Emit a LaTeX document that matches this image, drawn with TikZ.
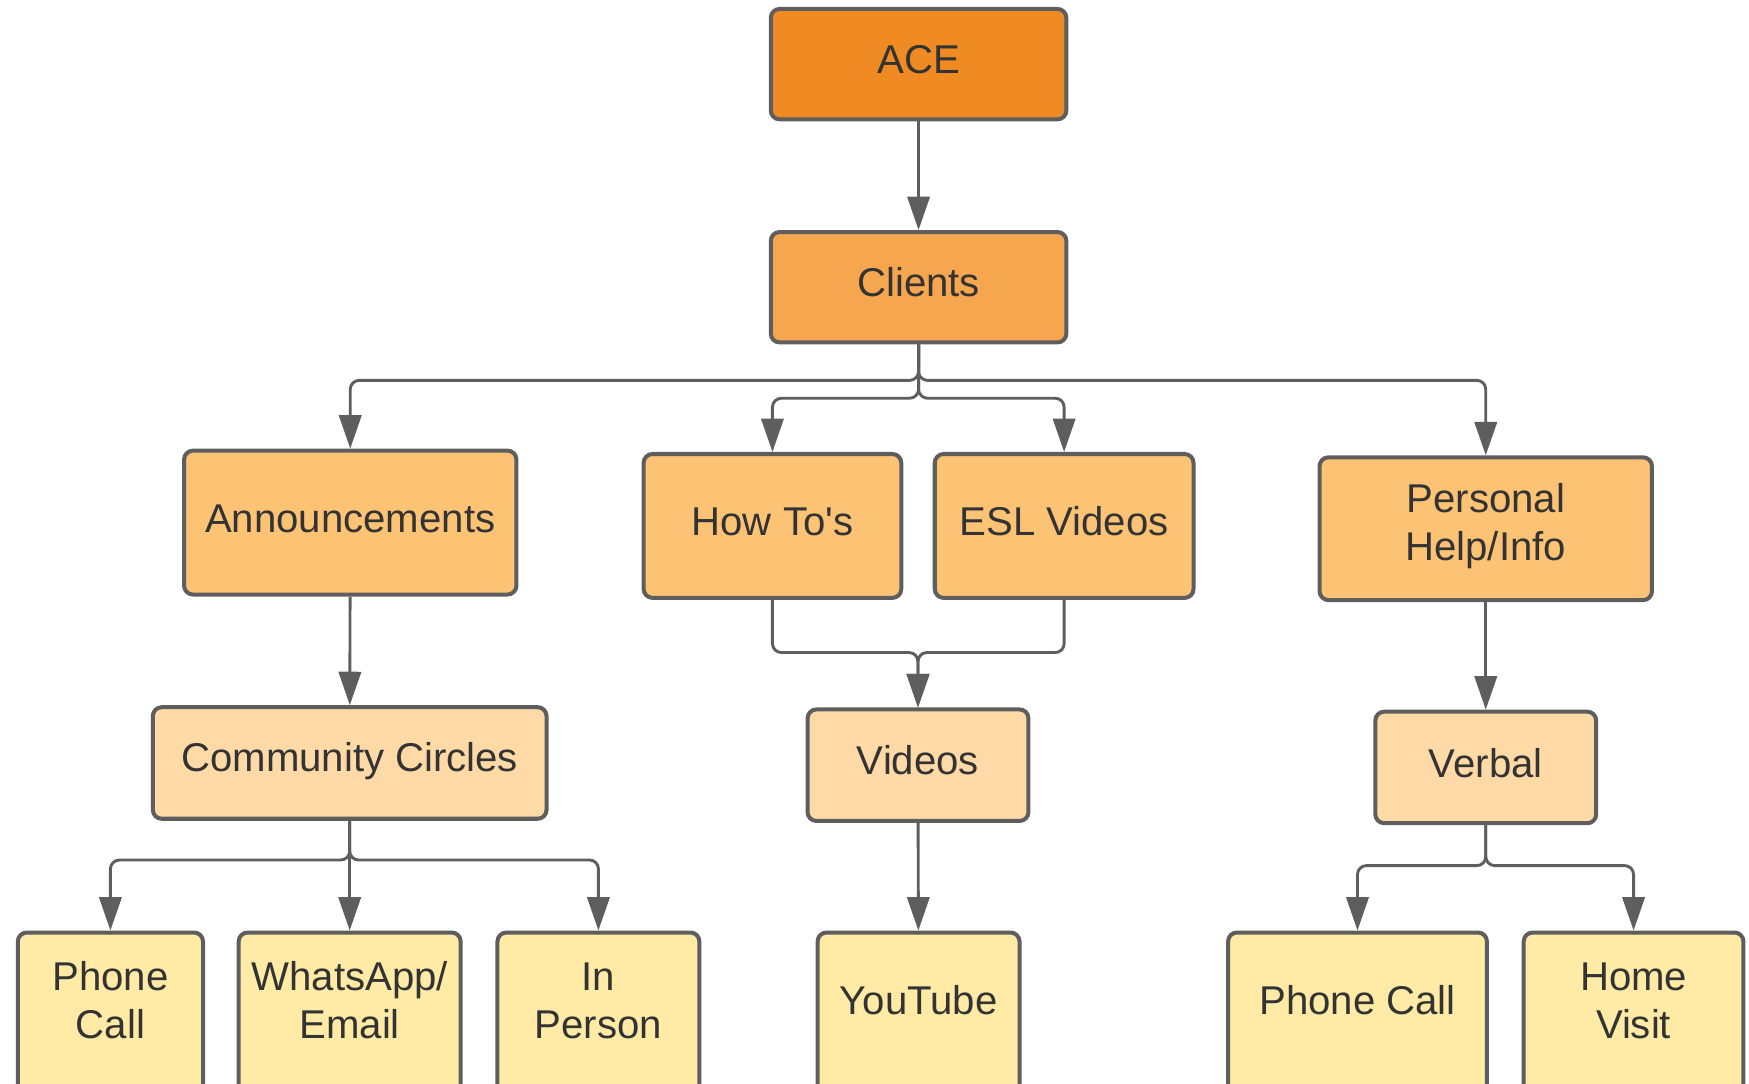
\documentclass[tikz,border=0pt]{standalone}
\usepackage{fontspec}
\setmainfont{Liberation Sans}
\usetikzlibrary{arrows.meta}
\newcommand{\boxtext}[2][0pt]{\raisebox{#1}[\height][\depth]{\begin{tabular}{@{}c@{}}#2\end{tabular}}}

\begin{document}
\begin{tikzpicture}[x=0.5pt,y=-0.5pt,
  box/.style={draw=lineColor,line width=1.8pt,rounded corners=4pt,inner sep=0pt,
    text=textColor,font=\fontsize{18}{21.5}\selectfont},
  conn/.style={draw=lineColor,line width=1.3pt,rounded corners=4pt,
    -{Triangle[length=15pt,width=10pt]}}]
\definecolor{lineColor}{RGB}{94,94,94}
\definecolor{textColor}{RGB}{51,51,51}
\definecolor{aceColor}{RGB}{239,139,34}
\definecolor{clientColor}{RGB}{247,166,80}
\definecolor{topicColor}{RGB}{253,195,117}
\definecolor{channelColor}{RGB}{255,218,166}
\definecolor{leafColor}{RGB}{255,235,165}
\path[use as bounding box] (0,0) rectangle (1568,971);
\clip (0,0) rectangle (1568,971);

% top of the tree
\node[box,fill=aceColor,minimum width=132.5pt,minimum height=49.5pt] (ace) at (823.5,57.5) {\boxtext{ACE}};
\node[box,fill=clientColor,minimum width=132.5pt,minimum height=49.5pt] (clients) at (823.5,257.5) {\boxtext{Clients}};

% topics
\node[box,fill=topicColor,minimum width=149pt,minimum height=64.5pt] (announce) at (314,468.5) {\boxtext{Announcements}};
\node[box,fill=topicColor,minimum width=115.5pt,minimum height=64.5pt] (howto) at (692.5,471.5) {\boxtext{How To\textquotesingle s}};
\node[box,fill=topicColor,minimum width=116pt,minimum height=64.5pt] (esl) at (954,471.5) {\boxtext{ESL Videos}};
\node[box,fill=topicColor,minimum width=149pt,minimum height=64pt] (personal) at (1332,474) {\boxtext[1pt]{Personal\\Help/Info}};

% channels
\node[box,fill=channelColor,minimum width=176.5pt,minimum height=50pt] (circles) at (313.5,684) {\boxtext[0.7pt]{Community Circles}};
\node[box,fill=channelColor,minimum width=99pt,minimum height=50pt] (videos) at (823,686) {\boxtext{Videos}};
\node[box,fill=channelColor,minimum width=99pt,minimum height=50pt] (verbal) at (1332,688) {\boxtext{Verbal}};

% leaves (cut off at the bottom)
\node[box,fill=leafColor,minimum width=83pt,minimum height=72pt] (phoneA) at (99,908) {\boxtext[3.4pt]{Phone\\Call}};
\node[box,fill=leafColor,minimum width=99.5pt,minimum height=72pt] (whatsapp) at (313.5,908) {\boxtext[3.4pt]{WhatsApp/\\Email}};
\node[box,fill=leafColor,minimum width=90.5pt,minimum height=72pt] (inperson) at (536.5,908) {\boxtext[3.4pt]{In\\Person}};
\node[box,fill=leafColor,minimum width=90.5pt,minimum height=72pt] (youtube) at (823.5,908) {\boxtext[3.4pt]{YouTube}};
\node[box,fill=leafColor,minimum width=116pt,minimum height=72pt] (phoneB) at (1217,908) {\boxtext[3.4pt]{Phone Call}};
\node[box,fill=leafColor,minimum width=98.5pt,minimum height=72pt] (homevisit) at (1464.5,908) {\boxtext[3.4pt]{Home\\Visit}};

% fork levels
\coordinate (outerfork) at (823,341);
\coordinate (innerfork) at (823,357);
\coordinate (mergefork) at (823,585);
\coordinate (circlefork) at (314,771);
\coordinate (verbalfork) at (1332,776);

% connectors
\draw[conn] (ace) -- (clients);
\draw[conn] (clients.south) |- (announce.north |- outerfork) -- (announce.north);
\draw[conn] (clients.south) |- (personal.north |- outerfork) -- (personal.north);
\draw[conn] (clients.south) |- (howto.north |- innerfork) -- (howto.north);
\draw[conn] (clients.south) |- (esl.north |- innerfork) -- (esl.north);
\draw[conn] (howto.south) |- (mergefork) -- (videos.north);
\draw[conn] (esl.south) |- (mergefork) -- (videos.north);
\draw[conn] (announce) -- (circles);
\draw[conn] (personal) -- (verbal);
\draw[conn] (videos) -- (youtube);
\draw[conn] (circles.south) |- (phoneA.north |- circlefork) -- (phoneA.north);
\draw[conn] (circles.south) -- (whatsapp.north);
\draw[conn] (circles.south) |- (inperson.north |- circlefork) -- (inperson.north);
\draw[conn] (verbal.south) |- (phoneB.north |- verbalfork) -- (phoneB.north);
\draw[conn] (verbal.south) |- (homevisit.north |- verbalfork) -- (homevisit.north);
\end{tikzpicture}
\end{document}
